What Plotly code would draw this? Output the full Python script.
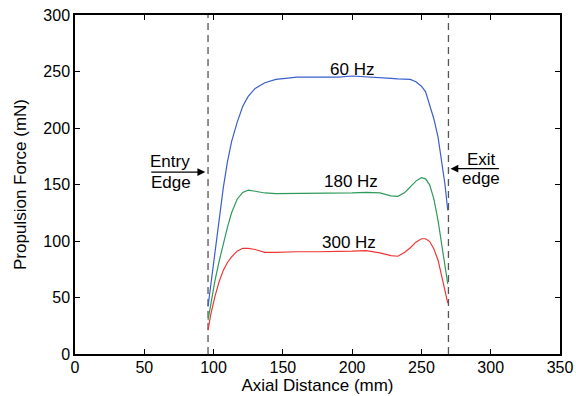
import plotly.graph_objects as go

# Axial distance samples (mm)
x_mm = [96, 98, 101, 104, 107, 110, 113, 117, 121, 125, 130, 137, 145, 152, 160, 175,
        190, 200, 210, 220, 228, 233, 238, 242, 246, 250, 253, 256, 259, 262, 265, 267, 269]

f60 = [42, 62, 90, 118, 147, 170, 188, 205, 219, 228, 235, 240, 243, 244, 245, 245,
       245, 246, 245.5, 244.5, 244, 243.5, 243, 243, 241, 237, 232, 221, 208, 192, 166, 150, 127]
f180 = [30, 45, 65, 82, 98, 112, 125, 137, 143, 145, 144, 142.5, 142, 142, 142, 142,
        142, 142.5, 143, 142.5, 140, 139.5, 143, 148, 153, 156, 155, 149.5, 137, 118, 93, 78, 62]
f300 = [21, 35, 51, 64, 74, 81, 86, 91, 93.5, 93.5, 92.5, 90, 90, 90.5, 90.5, 90.5,
        90.5, 91, 91.5, 89.5, 87, 86.5, 90, 94, 99, 102, 102, 99.5, 93, 83, 67, 57, 45]

edges_x = [96, 269.5]
series_names = ["60 Hz", "180 Hz", "300 Hz"]
label_pos = [(200, 252), (199.5, 152.5), (198, 98.5)]
colors = ["#3a5fcd", "#2e9a5a", "#f03535"]

FONT = "Liberation Sans, Arial, sans-serif"
FS = 17
TFS = 16
fig = go.Figure()

for ex in edges_x:
    fig.add_trace(go.Scatter(x=[ex, ex], y=[0, 300], mode="lines",
                             line=dict(color="#555555", width=1.3, dash="7px,5px"),
                             showlegend=False, hoverinfo="skip"))

for ys, c in zip([f60, f180, f300], colors):
    fig.add_trace(go.Scatter(x=x_mm, y=ys, mode="lines",
                             line=dict(color=c, width=1.2), showlegend=False))

for name, (lx, ly) in zip(series_names, label_pos):
    fig.add_annotation(x=lx, y=ly, text=name, showarrow=False,
                       font=dict(size=FS, color="black", family=FONT))

# Entry edge arrow and text
fig.add_annotation(x=94, y=161, ax=54, ay=161, axref="x", ayref="y", xref="x", yref="y",
                   text="", showarrow=True, arrowhead=2, arrowsize=1.3, arrowwidth=1.2,
                   arrowcolor="black")
fig.add_annotation(x=68.5, y=170, text="Entry", showarrow=False,
                   font=dict(size=FS, color="black", family=FONT))
fig.add_annotation(x=69, y=152, text="Edge", showarrow=False,
                   font=dict(size=FS, color="black", family=FONT))
# Exit edge arrow and text
fig.add_annotation(x=271, y=164, ax=307, ay=164, axref="x", ayref="y", xref="x", yref="y",
                   text="", showarrow=True, arrowhead=2, arrowsize=1.3, arrowwidth=1.2,
                   arrowcolor="black")
fig.add_annotation(x=293, y=172, text="Exit", showarrow=False,
                   font=dict(size=FS, color="black", family=FONT))
fig.add_annotation(x=293, y=155, text="edge", showarrow=False,
                   font=dict(size=FS, color="black", family=FONT))

axis_common = dict(showgrid=False, zeroline=False, showline=True, linecolor="black",
                   linewidth=1.5, mirror="ticks", ticks="inside", ticklen=5,
                   tickcolor="black", automargin=False,
                   tickfont=dict(size=TFS, color="black", family=FONT))

fig.update_xaxes(range=[0, 350], dtick=50, ticklabelstandoff=-2,
                 title=dict(text="Axial Distance (mm)",
                 font=dict(size=FS, color="black", family=FONT), standoff=1), **axis_common)
fig.update_yaxes(range=[0, 300], dtick=50, title=dict(text="Propulsion Force (mN)",
                 font=dict(size=FS, color="black", family=FONT), standoff=12), **axis_common)

fig.update_layout(width=576, height=396, plot_bgcolor="white", paper_bgcolor="white",
                  margin=dict(l=75, r=16, t=15, b=42), font=dict(family=FONT))

fig.write_html("out.html")
